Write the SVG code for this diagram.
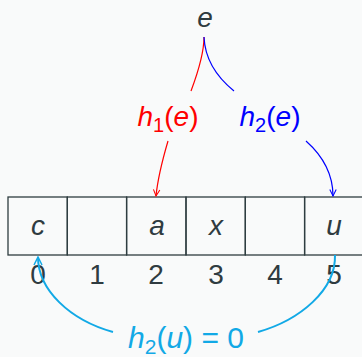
<svg xmlns="http://www.w3.org/2000/svg" width="362" height="357" viewBox="0 0 362 357">
<defs>
<style>
.t{font-family:"Liberation Sans",Arial,sans-serif;font-size:28px;fill:#2f3b40}
.i{font-style:italic}
.box{fill:none;stroke:#2f3d40;stroke-width:1.3}
.c{fill:none;stroke-width:1.2}
.cy{fill:none;stroke:#12a9e6;stroke-width:2}
</style>
<marker id="ar" viewBox="0 0 10 10" refX="9" refY="5" markerWidth="8" markerHeight="8" orient="auto" markerUnits="userSpaceOnUse">
<path d="M1,1 Q5,3 9,5 Q5,7 1,9" fill="none" stroke="context-stroke" stroke-width="1.3"/>
</marker>
<marker id="ar2" viewBox="0 0 10 10" refX="9" refY="5" markerWidth="10" markerHeight="10" orient="auto" markerUnits="userSpaceOnUse">
<path d="M1,1 Q5,3 9,5 Q5,7 1,9" fill="none" stroke="context-stroke" stroke-width="1.5"/>
</marker>
</defs>
<rect width="362" height="357" fill="#f9fafa"/>
<g id="key"><text class="t i" x="205" y="27" text-anchor="middle">e</text></g>
<g id="h1"><text class="t" x="168" y="126" text-anchor="middle" style="fill:#ff0000"><tspan class="i">h</tspan><tspan font-size="20" dy="6">1</tspan><tspan dy="-6">(</tspan><tspan class="i">e</tspan>)</text></g>
<g id="h2"><text class="t" x="270" y="126" text-anchor="middle" style="fill:#0000ff"><tspan class="i">h</tspan><tspan font-size="20" dy="6">2</tspan><tspan dy="-6">(</tspan><tspan class="i">e</tspan>)</text></g>
<g id="table">
<rect class="box" x="8" y="197" width="59.3" height="58"/>
<rect class="box" x="67.3" y="197" width="59.3" height="58"/>
<rect class="box" x="126.6" y="197" width="59.4" height="58"/>
<rect class="box" x="186" y="197" width="59.3" height="58"/>
<rect class="box" x="245.3" y="197" width="59.3" height="58"/>
<rect class="box" x="304.6" y="197" width="59.4" height="58"/>
<text class="t i" x="38" y="235" text-anchor="middle">c</text>
<text class="t i" x="157" y="235" text-anchor="middle">a</text>
<text class="t i" x="216" y="235" text-anchor="middle">x</text>
<text class="t i" x="334" y="235" text-anchor="middle">u</text>
</g>
<g id="indices">
<text class="t" x="38" y="284" text-anchor="middle">0</text>
<text class="t" x="97" y="284" text-anchor="middle">1</text>
<text class="t" x="156" y="284" text-anchor="middle">2</text>
<text class="t" x="216" y="284" text-anchor="middle">3</text>
<text class="t" x="275" y="284" text-anchor="middle">4</text>
<text class="t" x="334" y="284" text-anchor="middle">5</text>
</g>
<g id="label"><text class="t" x="186" y="348" text-anchor="middle" style="fill:#12a9e6;font-size:30px"><tspan class="i">h</tspan><tspan font-size="21" dy="6">2</tspan><tspan dy="-6">(</tspan><tspan class="i">u</tspan>) = 0</text></g>
<g id="connectors">
<path class="c" stroke="#ff0000" d="M204,37 C204,55 197,75 191,91"/>
<path class="c" stroke="#0000ff" d="M204,37 C205,60 218,78 234,91"/>
<path class="c" stroke="#ff0000" d="M168,141 C163,158 158,176 156,196" marker-end="url(#ar)"/>
<path class="c" stroke="#0000ff" d="M306,141 C324,157 333,175 333,196" marker-end="url(#ar)"/>
<path class="cy" d="M335,255 C336,290 300,320 258,332"/>
<path class="cy" d="M113,332 C70,320 38,290 38,257" marker-end="url(#ar2)"/>
</g>
</svg>
